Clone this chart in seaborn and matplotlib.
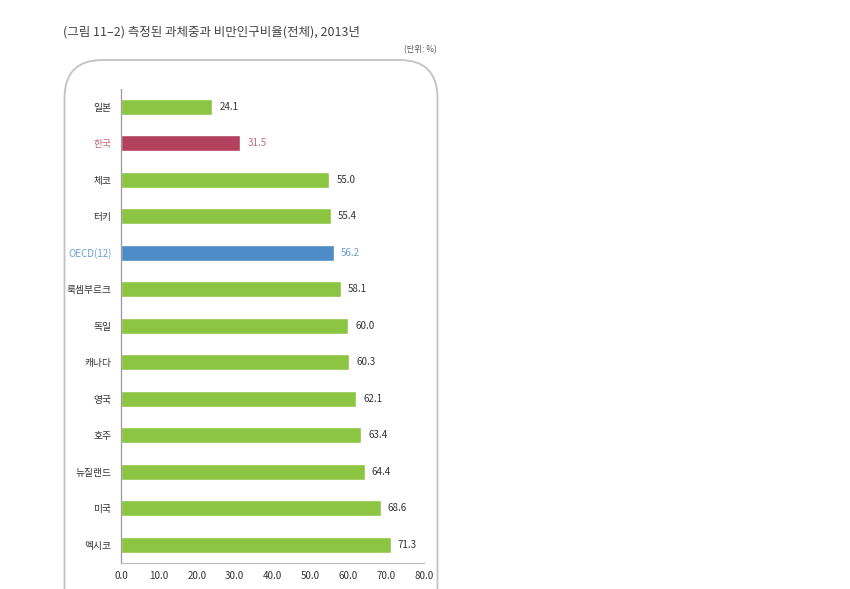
import matplotlib
matplotlib.use("Agg")
import matplotlib.pyplot as plt
import seaborn as sns
import pandas as pd
from matplotlib.patches import FancyBboxPatch

categories = ["일본", "한국", "체코", "터키", "OECD(12)", "룩셈부르크", "독일",
              "캐나다", "영국", "호주", "뉴질랜드", "미국", "멕시코"]
values = [24.1, 31.5, 55.0, 55.4, 56.2, 58.1, 60.0, 60.3, 62.1, 63.4, 64.4, 68.6, 71.3]
x_ticks = [0, 10, 20, 30, 40, 50, 60, 70, 80]
title = "(그림 11–2) 측정된 과체중과 비만인구비율(전체), 2013년"
unit = "(단위: %)"

GREEN = "#8cc541"
RED = "#b2415e"
BLUE = "#4d8cc6"
bar_colors = [RED if c == "한국" else BLUE if c.startswith("OECD") else GREEN for c in categories]
label_colors = ["#c4687c" if c == "한국" else "#6b9fd0" if c.startswith("OECD") else "#333333"
                for c in categories]

sns.set_theme(style="white")
plt.rcParams["font.family"] = ["Noto Sans CJK KR", "DejaVu Sans"]

df = pd.DataFrame({"country": categories, "value": values})

fig = plt.figure(figsize=(8.5, 5.89), dpi=100)
fig.patch.set_facecolor("white")

# rounded frame
frame = FancyBboxPatch((0.645, -0.6), 3.73, 5.89 - 0.60 + 0.6,
                       boxstyle="round,pad=0,rounding_size=0.38",
                       transform=fig.dpi_scale_trans, fill=False,
                       edgecolor="#c2c2c2", linewidth=1.3)
fig.add_artist(frame)

ax = fig.add_axes([121 / 850, 1 - 563 / 589, (424 - 121) / 850, (563 - 88.5) / 589])
sns.barplot(data=df, x="value", y="country", hue="country", palette=bar_colors,
            legend=False, width=0.45, orient="h", ax=ax, saturation=1)

ax.set_xlim(0, 80)
ax.set_ylim(len(categories) - 0.5, -0.5)
ax.set_xticks(x_ticks)
ax.set_xticklabels([f"{t:.1f}" for t in x_ticks], fontsize=7, color="#333333")
ax.set_xlabel("")
ax.set_ylabel("")
ax.set_yticks(range(len(categories)))
ax.set_yticklabels(categories, fontsize=7)
for lbl, col in zip(ax.get_yticklabels(), label_colors):
    lbl.set_color(col)
ax.tick_params(axis="y", which="major", length=0, pad=7)
ax.set_yticks([i + 0.5 for i in range(-1, len(categories))], minor=True)
ax.tick_params(axis="y", which="minor", length=3, direction="out", color="#999999", width=0.8)
ax.tick_params(axis="x", which="major", length=3, direction="in", color="#aaaaaa", width=0.8, pad=6)

for s in ["top", "right"]:
    ax.spines[s].set_visible(False)
ax.spines["left"].set_color("#999999")
ax.spines["left"].set_linewidth(0.9)
ax.spines["bottom"].set_color("#bbbbbb")
ax.spines["bottom"].set_linewidth(0.8)
ax.patch.set_alpha(0)

for i, (v, col) in enumerate(zip(values, label_colors)):
    ax.annotate(f"{v:.1f}", xy=(v, i), xytext=(5, 0), textcoords="offset points",
                va="center", ha="left", fontsize=7, color=col)

fig.text(63 / 850, 1 - 32 / 589, title, fontsize=9, color="#444444", va="center", ha="left")
fig.text(437 / 850, 1 - 50 / 589, unit, fontsize=6, color="#555555", va="center", ha="right")

fig.savefig("out.png", dpi=100, facecolor="white")
